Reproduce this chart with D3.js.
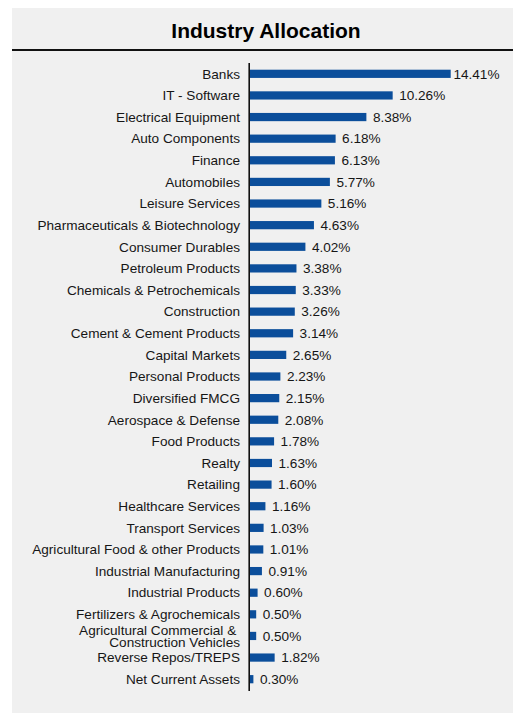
<!DOCTYPE html>
<html>
<head>
<meta charset="utf-8">
<script src="https://cdn.jsdelivr.net/npm/d3@7"></script>
<style>
  html, body { margin: 0; padding: 0; background: #ffffff; }
  svg { display: block; }
  text { font-family: Arial, "Liberation Sans", sans-serif; fill: #161616; }
</style>
</head>
<body>
<svg id="chart" width="513" height="713"></svg>
<script>
// Industry allocation (% of net assets)
const categories = [
  "Banks",
  "IT - Software",
  "Electrical Equipment",
  "Auto Components",
  "Finance",
  "Automobiles",
  "Leisure Services",
  "Pharmaceuticals & Biotechnology",
  "Consumer Durables",
  "Petroleum Products",
  "Chemicals & Petrochemicals",
  "Construction",
  "Cement & Cement Products",
  "Capital Markets",
  "Personal Products",
  "Diversified FMCG",
  "Aerospace & Defense",
  "Food Products",
  "Realty",
  "Retailing",
  "Healthcare Services",
  "Transport Services",
  "Agricultural Food & other Products",
  "Industrial Manufacturing",
  "Industrial Products",
  "Fertilizers & Agrochemicals",
  "Agricultural Commercial & \nConstruction Vehicles",
  "Reverse Repos/TREPS",
  "Net Current Assets"
];
const values = [
  14.41, 10.26, 8.38, 6.18, 6.13, 5.77, 5.16, 4.63, 4.02, 3.38,
  3.33, 3.26, 3.14, 2.65, 2.23, 2.15, 2.08, 1.78, 1.63, 1.60,
  1.16, 1.03, 1.01, 0.91, 0.60, 0.50, 0.50, 1.82, 0.30
];
const title = "Industry Allocation";

const W = 513, H = 713;
const svg = d3.select("#chart");

// panel background
svg.append("rect")
  .attr("x", 12).attr("y", 8)
  .attr("width", W - 12).attr("height", H - 8)
  .attr("fill", "#f0f0f0");

// title and rule beneath it
svg.append("text")
  .attr("x", 266).attr("y", 38)
  .attr("text-anchor", "middle")
  .style("font-size", "21px")
  .style("font-weight", "bold")
  .style("fill", "#000")
  .text(title);

svg.append("line")
  .attr("x1", 12).attr("x2", W)
  .attr("y1", 50).attr("y2", 50)
  .attr("stroke", "#111").attr("stroke-width", 2);

const data = categories.map((c, i) => ({ cat: c, val: values[i] }));

const x = d3.scaleLinear().domain([0, 14.41]).range([249.2, 450.7]);
const y = d3.scaleBand()
  .domain(categories)
  .range([63, 690])
  .paddingInner(0.62)
  .paddingOuter(0.31);

const g = svg.append("g");
const fontSize = 13.6;

// bars
g.selectAll("rect.bar")
  .data(data)
  .join("rect")
  .attr("class", "bar")
  .attr("x", x(0))
  .attr("y", d => y(d.cat))
  .attr("width", d => x(d.val) - x(0))
  .attr("height", y.bandwidth())
  .attr("fill", "#0b4e9b");

// category labels (right aligned to the axis)
const labelX = 240;
const cats = g.selectAll("text.cat")
  .data(data)
  .join("text")
  .attr("class", "cat")
  .attr("text-anchor", "end")
  .style("font-size", fontSize + "px")
  .style("white-space", "pre")
  .attr("y", d => y(d.cat) + y.bandwidth() / 2);

cats.each(function (d) {
  const lines = d.cat.split("\n");
  const t = d3.select(this);
  const lh = 11.8;
  lines.forEach((ln, i) => {
    t.append("tspan")
      .attr("x", labelX)
      .attr("dy", i === 0 ? ((-(lines.length - 1) / 2) * lh / fontSize + 0.35) + "em" : (lh / fontSize) + "em")
      .text(ln);
  });
});

// value labels at bar ends, kept inside the plot area
const maxRight = 499.5;
g.selectAll("text.val")
  .data(data)
  .join("text")
  .attr("class", "val")
  .style("font-size", fontSize + "px")
  .attr("y", d => y(d.cat) + y.bandwidth() / 2)
  .attr("dy", "0.35em")
  .text(d => d.val.toFixed(2) + "%")
  .attr("x", function (d) {
    const w = this.getComputedTextLength();
    return Math.min(x(d.val) + 6.5, maxRight - w);
  });

// vertical category axis line
g.append("line")
  .attr("x1", x(0)).attr("x2", x(0))
  .attr("y1", 63).attr("y2", 691)
  .attr("stroke", "#111").attr("stroke-width", 1.6);
</script>
</body>
</html>
